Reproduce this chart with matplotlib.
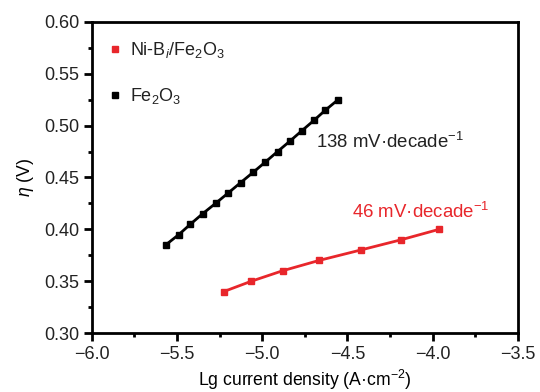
import matplotlib
matplotlib.use('Agg')
import matplotlib.pyplot as plt

plt.rcParams['font.family'] = ['Liberation Sans', 'DejaVu Sans']
plt.rcParams['mathtext.fontset'] = 'custom'
plt.rcParams['mathtext.rm'] = 'Liberation Sans'
plt.rcParams['mathtext.it'] = 'Liberation Sans:italic'
plt.rcParams['text.color'] = '#222222'
plt.rcParams['xtick.labelcolor'] = '#222222'
plt.rcParams['ytick.labelcolor'] = '#222222'

# Tafel data: log current density vs overpotential
fe2o3_x = [-5.566, -5.489, -5.421, -5.350, -5.274, -5.200, -5.127, -5.053,
           -4.981, -4.910, -4.838, -4.768, -4.697, -4.629, -4.555]
fe2o3_y = [0.385, 0.395, 0.405, 0.415, 0.425, 0.435, 0.445, 0.455,
           0.465, 0.475, 0.485, 0.495, 0.505, 0.515, 0.525]
nib_x = [-5.225, -5.063, -4.881, -4.666, -4.423, -4.183, -3.962]
nib_y = [0.340, 0.350, 0.360, 0.370, 0.380, 0.390, 0.400]

red = '#e8262b'

fig = plt.figure(figsize=(5.4, 3.92), dpi=100)
ax = fig.add_axes([0.170, 0.1505, 0.789, 0.7935])

ax.plot(nib_x, nib_y, '-', color=red, lw=2, marker='s', ms=5,
        label='Ni-B$_i$/Fe$_2$O$_3$')
ax.plot(fe2o3_x, fe2o3_y, '-', color='black', lw=2, marker='s', ms=4.5,
        label='Fe$_2$O$_3$')

ax.text(-4.685, 0.484, '138 mV·decade$^{-1}$', fontsize=13.4, va='center')
ax.text(-4.474, 0.4167, '46 mV·decade$^{-1}$', fontsize=13.4, va='center',
        color=red)

ax.set_xlim(-6.0, -3.5)
ax.set_ylim(0.30, 0.60)
ax.set_xticks([-6.0, -5.5, -5.0, -4.5, -4.0, -3.5])
ax.set_xticklabels(['\u22126.0', '\u22125.5', '\u22125.0', '\u22124.5', '\u22124.0', '\u22123.5'])
ax.set_xticks([-5.75, -5.25, -4.75, -4.25, -3.75], minor=True)
ax.set_yticks([0.30, 0.35, 0.40, 0.45, 0.50, 0.55, 0.60])
ax.set_yticklabels(['0.30', '0.35', '0.40', '0.45', '0.50', '0.55', '0.60'])
ax.set_yticks([0.325, 0.375, 0.425, 0.475, 0.525, 0.575], minor=True)

ax.tick_params(which='major', direction='out', length=6, width=2,
               labelsize=13, pad=3)
ax.tick_params(which='minor', direction='out', length=3, width=2)
for s in ax.spines.values():
    s.set_linewidth(2)

ax.set_xlabel('Lg current density (A·cm$^{-2}$)', fontsize=12.7, labelpad=4)
ax.set_ylabel(r'$\mathit{\eta}$ (V)', fontsize=12.7, labelpad=6)

handles, labels = ax.get_legend_handles_labels()
leg = ax.legend(handles, labels, loc='upper left', frameon=False,
                fontsize=13, handlelength=0.6, handletextpad=0.5,
                labelspacing=1.45, borderaxespad=0.6)
for h in leg.legend_handles:
    h.set_linestyle('None')
    h.set_markersize(5)

fig.savefig('out.png', dpi=100)
